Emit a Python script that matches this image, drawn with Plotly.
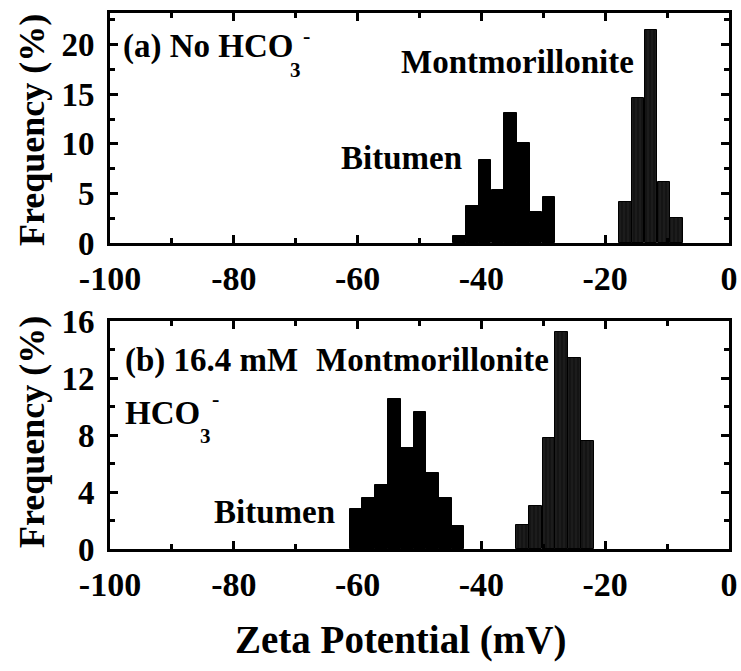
import plotly.graph_objects as go

# Zeta-potential distributions (frequency in %), bin centres in mV
top_bitumen_mv = [-43.5, -41.4, -39.4, -37.3, -35.3, -33.2, -31.2, -29.1]
top_bitumen_freq = [0.7, 3.7, 8.4, 5.3, 13.1, 10.1, 3.1, 4.6]
top_mont_mv = [-16.7, -14.7, -12.6, -10.5, -8.5]
top_mont_freq = [4.1, 14.6, 21.5, 6.2, 2.5]

bot_bitumen_mv = [-60.2, -58.2, -56.1, -54.1, -52.0, -49.9, -47.9, -45.8, -43.8]
bot_bitumen_freq = [2.8, 3.6, 4.5, 10.5, 7.1, 9.6, 5.3, 3.6, 1.6]
bot_mont_mv = [-33.4, -31.3, -29.1, -27.0, -24.9, -22.8]
bot_mont_freq = [1.7, 3.0, 7.8, 15.2, 13.4, 7.6]

BIN_W = 2.06
x_ticks = [-100, -80, -60, -40, -20, 0]
x_tick_text = ["-100", "-80", "-60", "-40", "-20", "0"]
top_y_ticks = [0, 5, 10, 15, 20]
bot_y_ticks = [0, 4, 8, 12, 16]

FONT = "Liberation Serif"

bitumen_marker = dict(color="black", line=dict(color="black", width=1))
mont_marker = dict(
    color="#1c1c1c",
    line=dict(color="black", width=1),
    pattern=dict(shape="|", fgcolor="#5e5e5e", bgcolor="#141414", size=4, solidity=0.1),
)

fig = go.Figure()
fig.add_trace(go.Bar(x=top_bitumen_mv, y=top_bitumen_freq, width=BIN_W,
                     marker=bitumen_marker, xaxis="x", yaxis="y"))
fig.add_trace(go.Bar(x=top_mont_mv, y=top_mont_freq, width=BIN_W,
                     marker=mont_marker, xaxis="x", yaxis="y"))
fig.add_trace(go.Bar(x=bot_bitumen_mv, y=bot_bitumen_freq, width=BIN_W,
                     marker=bitumen_marker, xaxis="x2", yaxis="y2"))
fig.add_trace(go.Bar(x=bot_mont_mv, y=bot_mont_freq, width=BIN_W,
                     marker=mont_marker, xaxis="x2", yaxis="y2"))

W, H = 741, 671
x_dom = [110 / W, 729 / W]
top_dom = [(H - 243) / H, (H - 13) / H]
bot_dom = [(H - 549) / H, (H - 321) / H]

axis_common = dict(
    showline=True, linecolor="black", linewidth=3, mirror="allticks",
    ticks="inside", tickwidth=3, tickcolor="black", showgrid=False, zeroline=False,
    fixedrange=True, automargin=False,
)

xaxis_style = dict(
    axis_common, range=[-100, 0], domain=x_dom,
    tickvals=x_ticks, ticktext=x_tick_text, ticklen=8,
    minor=dict(dtick=10, tick0=0, ticks="inside", ticklen=5, tickwidth=3, tickcolor="black"),
    tickfont=dict(family=FONT, size=34, color="black", weight="bold"),
    ticklabelstandoff=3,
)

def yaxis_style(rng, dom, anchor, vals, minor_step):
    return dict(
        axis_common, range=rng, domain=dom, anchor=anchor,
        tickvals=vals, ticktext=[str(v) for v in vals], ticklen=8,
        minor=dict(dtick=minor_step, tick0=0, ticks="inside", ticklen=5,
                   tickwidth=3, tickcolor="black"),
        tickfont=dict(family=FONT, size=33, color="black", weight="bold"),
        ticklabelstandoff=6,
    )

fig.update_layout(
    width=W, height=H,
    margin=dict(l=0, r=0, t=0, b=0, autoexpand=False),
    paper_bgcolor="white", plot_bgcolor="white",
    showlegend=False, barmode="overlay", bargap=0,
    font=dict(family=FONT, color="black", weight="bold"),
    xaxis=dict(xaxis_style, anchor="y"),
    yaxis=yaxis_style([0, 23.2], top_dom, "x", top_y_ticks, 2.5),
    xaxis2=dict(xaxis_style, anchor="y2"),
    yaxis2=yaxis_style([0, 16], bot_dom, "x2", bot_y_ticks, 2),
)

def px(xp, yp):
    return xp / W, 1 - yp / H

def label(text, xp, yp, size=33, xanchor="left", angle=0):
    x, y = px(xp, yp)
    fig.add_annotation(
        text=text, x=x, y=y, xref="paper", yref="paper", showarrow=False,
        xanchor=xanchor, yanchor="middle", textangle=angle,
        font=dict(family=FONT, size=size, color="black", weight="bold"),
    )

# panel (a): "(a) No HCO3-" with subscript 3 and superscript minus
label("(a) No HCO", 121, 47)
label("3", 288, 70, size=21)
label("-", 301, 36, size=22)
label("Montmorillonite", 399, 62)
label("Bitumen", 339, 158)

# panel (b): "(b) 16.4 mM HCO3-"
label("(b) 16.4 mM", 123, 360)
label("Montmorillonite", 314, 360)
label("HCO", 123, 413)
label("3", 198, 436, size=21)
label("-", 210, 398, size=22)
label("Bitumen", 212, 512)

# axis titles
label("Frequency (%)", 32, 130, size=36, xanchor="center", angle=-90)
label("Frequency (%)", 32, 432, size=36, xanchor="center", angle=-90)
label("Zeta Potential (mV)", 400, 640, size=39, xanchor="center")

fig.write_html("out.html")
